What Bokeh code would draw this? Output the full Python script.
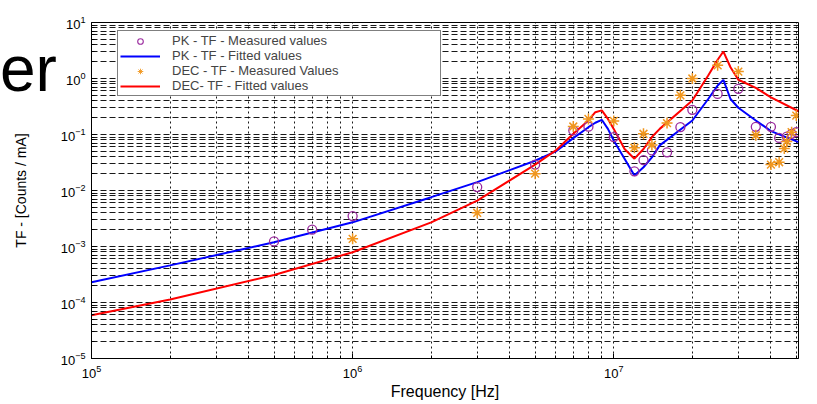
from bokeh.plotting import figure
from bokeh.models import (Range1d, FixedTicker, Legend, LegendItem, LogTickFormatter,
                          ColumnDataSource, Div)
from bokeh.embed import file_html
from bokeh.resources import INLINE

# ---- data ----
pk_freq = [5e5, 7e5, 1e6, 3e6, 5e6, 7e6, 8e6, 1e7, 1.2e7, 1.3e7, 1.4e7, 1.6e7,
           1.8e7, 2e7, 2.5e7, 3e7, 3.5e7, 4e7, 4.3e7, 4.6e7, 4.8e7, 5e7]
pk_meas = [1.23e-3, 2.0e-3, 3.5e-3, 1.15e-2, 2.9e-2, 0.118, 0.138, 0.09, 0.022, 0.035,
           0.052, 0.048, 0.135, 0.276, 0.53, 0.655, 0.137, 0.137, 0.087, 0.092, 0.103, 0.11]

dec_freq = [1e6, 3e6, 5e6, 7e6, 8e6, 1e7, 1.2e7, 1.3e7, 1.4e7, 1.6e7, 1.8e7, 2e7,
            2.5e7, 3e7, 3.5e7, 4e7, 4.3e7, 4.5e7, 4.6e7, 4.8e7, 5e7]
dec_meas = [1.37e-3, 4.0e-3, 2.0e-2, 0.139, 0.19, 0.175, 0.058, 0.103, 0.065, 0.16,
            0.5, 1.0, 1.72, 1.33, 0.097, 0.029, 0.032, 0.056, 0.075, 0.11, 0.218]

fit_freq = [1e5, 2e5, 5e5, 1e6, 2e6, 3e6, 5e6, 6e6, 7e6, 8e6, 8.5e6, 9e6, 9.5e6, 1e7,
            1.1e7, 1.2e7, 1.3e7, 1.4e7, 1.5e7, 2e7, 2.3e7, 2.5e7, 2.63e7, 2.8e7, 3e7,
            3.5e7, 4e7, 5.1e7]
pk_fit = [2.3e-4, 4.6e-4, 1.19e-3, 2.7e-3, 7.6e-3, 1.41e-2, 0.034, 0.050, 0.086, 0.135,
          0.162, 0.183, 0.126, 0.078, 0.037, 0.0185, 0.026, 0.039, 0.064, 0.178, 0.43,
          0.75, 0.946, 0.43, 0.30, 0.178, 0.115, 0.073]
dec_fit = [5.9e-5, 1.13e-4, 3.1e-4, 7.9e-4, 2.7e-3, 6.6e-3, 0.029, 0.052, 0.103, 0.178,
           0.25, 0.27, 0.19, 0.126, 0.055, 0.037, 0.055, 0.09, 0.126, 0.405, 1.13,
           2.16, 3.03, 1.59, 0.95, 0.68, 0.46, 0.26]

x_major = [1e5, 1e6, 1e7]
y_major = [1e-5, 1e-4, 1e-3, 1e-2, 1e-1, 1e0, 1e1]
legend_labels = ["PK - TF - Measured values", "PK - TF - Fitted values",
                 "DEC - TF - Measured Values", "DEC- TF - Fitted values"]
title_fragment = "er"

x_minor = [m * 10.0 ** e for e in range(5, 8) for m in range(2, 10) if m * 10.0 ** e <= 5.1e7]
y_minor = [m * 10.0 ** e for e in range(-5, 1) for m in range(2, 10)]

FONT = "Liberation Sans"
PURPLE = "#9a2a9e"
ORANGE = "#f0961e"

p = figure(width=817, height=404, x_axis_type="log", y_axis_type="log",
           x_range=Range1d(1e5, 5.1e7), y_range=Range1d(1e-5, 1e1),
           output_backend="svg", toolbar_location=None,
           min_border_left=91, min_border_right=19, min_border_top=22, min_border_bottom=46)
p.background_fill_color = "white"
p.border_fill_color = "white"
p.outline_line_color = "black"
p.outline_line_width = 1

p.xaxis.ticker = FixedTicker(ticks=x_major, minor_ticks=x_minor)
p.yaxis.ticker = FixedTicker(ticks=y_major, minor_ticks=y_minor)
p.xaxis.formatter = LogTickFormatter()
p.yaxis.formatter = LogTickFormatter()

for ax in (p.xaxis[0], p.yaxis[0]):
    ax.axis_line_color = "black"
    ax.major_tick_in = 5
    ax.major_tick_out = 0
    ax.minor_tick_in = 3
    ax.minor_tick_out = 0
    ax.major_tick_line_color = "black"
    ax.minor_tick_line_color = "black"
    ax.major_label_text_font = FONT
    ax.major_label_text_font_size = "13px"
    ax.major_label_text_color = "black"
    ax.axis_label_text_font = FONT
    ax.axis_label_text_font_style = "normal"
    ax.axis_label_text_color = "black"

p.xaxis.axis_label = "Frequency [Hz]"
p.xaxis.axis_label_text_font_size = "16px"
p.xaxis.major_label_standoff = 6
p.xaxis.axis_label_standoff = 2
p.yaxis.axis_label = "TF - [Counts / mA]"
p.yaxis.axis_label_text_font_size = "14px"
p.yaxis.major_label_standoff = 6
p.yaxis.axis_label_standoff = 29

p.xgrid.grid_line_color = "black"
p.xgrid.grid_line_dash = "2 3"
p.xgrid.minor_grid_line_color = "black"
p.xgrid.minor_grid_line_dash = "2 3"
p.ygrid.grid_line_color = "black"
p.ygrid.grid_line_dash = "6 3"
p.ygrid.minor_grid_line_color = "black"
p.ygrid.minor_grid_line_dash = "6 3"
for g in (p.xgrid[0], p.ygrid[0]):
    g.grid_line_alpha = 0.9
    g.minor_grid_line_alpha = 0.9

pk_src = ColumnDataSource(dict(f=pk_freq, v=pk_meas))
dec_src = ColumnDataSource(dict(f=dec_freq, v=dec_meas))

r_pkfit = p.line(fit_freq, pk_fit, line_color="#0000ff", line_width=2)
r_decfit = p.line(fit_freq, dec_fit, line_color="#ff0000", line_width=2)
r_pk = p.scatter("f", "v", source=pk_src, marker="circle", size=9, fill_color=None,
                 line_color=PURPLE, line_width=1.3)
r_dec = p.scatter("f", "v", source=dec_src, marker="asterisk", size=11, line_color=ORANGE,
                  line_width=1.5)
# hidden twins of the measured series, used only for the legend glyphs (thinner strokes)
leg_pk = p.scatter("f", "v", source=pk_src, marker="circle", size=9, fill_color=None,
                   line_color=PURPLE, line_width=1.1, visible=False)
leg_dec = p.scatter("f", "v", source=dec_src, marker="asterisk", size=11,
                    line_color=ORANGE, line_width=0.9, visible=False)

legend = Legend(items=[LegendItem(label=legend_labels[0], renderers=[leg_pk]),
                       LegendItem(label=legend_labels[1], renderers=[r_pkfit]),
                       LegendItem(label=legend_labels[2], renderers=[leg_dec]),
                       LegendItem(label=legend_labels[3], renderers=[r_decfit])],
                location=(26, 262))
legend.label_text_font = FONT
legend.label_text_font_size = "13px"
legend.label_text_line_height = 1.0
legend.label_height = 14
legend.glyph_height = 14
legend.glyph_width = 40
legend.label_standoff = 12
legend.label_width = 266
legend.spacing = 0
legend.padding = 2
legend.margin = 0
legend.inactive_fill_alpha = 0.0
legend.border_line_color = "black"
legend.border_line_width = 1
legend.background_fill_color = "white"
legend.background_fill_alpha = 1.0
p.add_layout(legend)

# fragment of the slide title that sits at the top-left, outside the plot frame
frag = Div(text=title_fragment,
           styles={"position": "absolute", "left": "0px", "top": "37px",
                   "font-family": FONT, "font-size": "64px", "line-height": "1",
                   "color": "black", "z-index": "5"})
if hasattr(p, "elements"):
    p.elements.append(frag)

open("out.html", "w").write(file_html(p, INLINE))
